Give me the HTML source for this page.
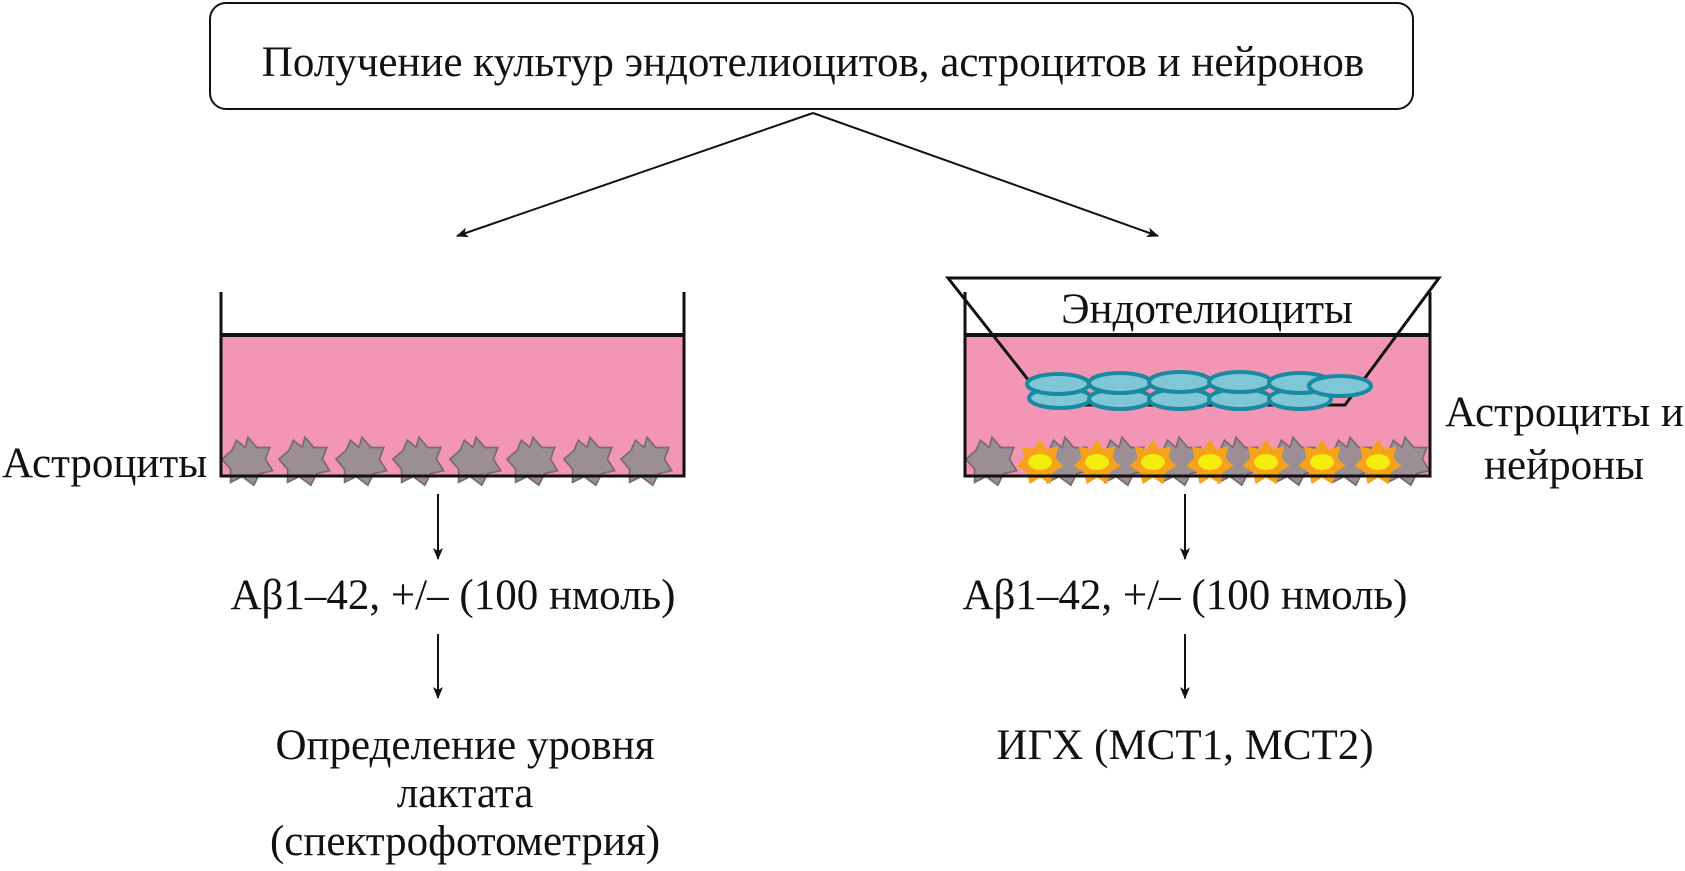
<!DOCTYPE html>
<html><head><meta charset="utf-8"><style>
body{margin:0;background:#fff;}
svg text{font-family:"Liberation Serif",serif;fill:#111;}
</style></head><body>
<svg width="1685" height="866" viewBox="0 0 1685 866" xmlns="http://www.w3.org/2000/svg">
<defs>
<marker id="ah" markerWidth="12" markerHeight="10" refX="11" refY="5" orient="auto" markerUnits="userSpaceOnUse">
<path d="M0,0 L12,5 L0,10 L3,5 z" fill="#111"/></marker>
<polygon id="star" transform="scale(1.45)" points="0,-17 6,-10 15,-10 12,-2 17,6 8,8 4,16 -4,10 -12,14 -12,5 -18,-2 -11,-8 -8,-15 -2,-10" fill="#9b8f94" stroke="#7a6a72" stroke-width="1.2"/>
<g id="ystar"><polygon transform="scale(1.3)" points="0,-17 5,-10 14,-12 12,-3 18,3 10,8 8,17 0,12 -8,17 -10,8 -18,3 -12,-3 -14,-12 -5,-10" fill="#f6a21a"/><ellipse cx="0" cy="0" rx="12" ry="8" fill="#f5ec10"/></g>
<g id="cell"><ellipse cx="0" cy="0" rx="31" ry="10" fill="#7fc6d6" stroke="#1a8aa0" stroke-width="4"/></g>
</defs>
<rect x="210" y="3" width="1203" height="106" rx="16" fill="#fff" stroke="#111" stroke-width="2"/>
<text x="813" y="76" font-size="43" text-anchor="middle">Получение культур эндотелиоцитов, астроцитов и нейронов</text>
<line x1="813" y1="113" x2="457" y2="236" stroke="#111" stroke-width="2" marker-end="url(#ah)"/>
<line x1="813" y1="113" x2="1158" y2="236" stroke="#111" stroke-width="2" marker-end="url(#ah)"/>
<!-- left well -->
<rect x="221" y="335" width="463" height="140" fill="#f396b6"/>
<line x1="221" y1="335" x2="684" y2="335" stroke="#111" stroke-width="4"/>
<g>
<use href="#star" x="248" y="462"/><use href="#star" x="305" y="462"/><use href="#star" x="362" y="462"/><use href="#star" x="419" y="462"/><use href="#star" x="476" y="462"/><use href="#star" x="533" y="462"/><use href="#star" x="590" y="462"/><use href="#star" x="647" y="462"/>
</g>
<polyline points="221,292 221,476 684,476 684,292" fill="none" stroke="#111" stroke-width="3"/>
<text x="2" y="477" font-size="43">Астроциты</text>
<!-- right well -->
<rect x="965" y="335" width="465" height="140" fill="#f396b6"/>
<line x1="965" y1="335" x2="1430" y2="335" stroke="#111" stroke-width="4"/>
<polygon points="948,278 1439,278 1345,405 1048,405" fill="none" stroke="#111" stroke-width="3"/>
<g>
<use href="#cell" x="1060" y="398"/><use href="#cell" x="1120" y="399"/><use href="#cell" x="1180" y="399"/><use href="#cell" x="1240" y="399"/><use href="#cell" x="1300" y="399"/>
<use href="#cell" x="1058" y="384"/><use href="#cell" x="1120" y="383"/><use href="#cell" x="1180" y="382"/><use href="#cell" x="1240" y="382"/><use href="#cell" x="1300" y="383"/><use href="#cell" x="1340" y="386"/>
</g>
<g>
<use href="#star" x="992" y="462"/><use href="#star" x="1065" y="462"/><use href="#star" x="1122" y="462"/><use href="#star" x="1179" y="462"/><use href="#star" x="1236" y="462"/><use href="#star" x="1293" y="462"/><use href="#star" x="1350" y="462"/><use href="#star" x="1405" y="462"/>
<use href="#ystar" x="1040" y="462"/><use href="#ystar" x="1097" y="462"/><use href="#ystar" x="1153" y="462"/><use href="#ystar" x="1210" y="462"/><use href="#ystar" x="1266" y="462"/><use href="#ystar" x="1322" y="462"/><use href="#ystar" x="1378" y="462"/>
</g>
<polyline points="965,292 965,476 1430,476 1430,292" fill="none" stroke="#111" stroke-width="3"/>
<text x="1207" y="323" font-size="43" text-anchor="middle">Эндотелиоциты</text>
<text x="1445" y="426" font-size="43">Астроциты и</text>
<text x="1564" y="479" font-size="43" text-anchor="middle">нейроны</text>
<!-- down arrows -->
<line x1="438" y1="494" x2="438" y2="559" stroke="#111" stroke-width="2" marker-end="url(#ah)"/>
<line x1="438" y1="634" x2="438" y2="698" stroke="#111" stroke-width="2" marker-end="url(#ah)"/>
<line x1="1185" y1="494" x2="1185" y2="559" stroke="#111" stroke-width="2" marker-end="url(#ah)"/>
<line x1="1185" y1="634" x2="1185" y2="698" stroke="#111" stroke-width="2" marker-end="url(#ah)"/>
<text x="453" y="609" font-size="43" text-anchor="middle">Aβ1–42, +/– (100 нмоль)</text>
<text x="1185" y="609" font-size="43" text-anchor="middle">Aβ1–42, +/– (100 нмоль)</text>
<text x="465" y="759" font-size="43" text-anchor="middle">Определение уровня</text>
<text x="465" y="807" font-size="43" text-anchor="middle">лактата</text>
<text x="465" y="855" font-size="43" text-anchor="middle">(спектрофотометрия)</text>
<text x="1185" y="759" font-size="43" text-anchor="middle">ИГХ (МСТ1, МСТ2)</text>
</svg>
</body></html>
